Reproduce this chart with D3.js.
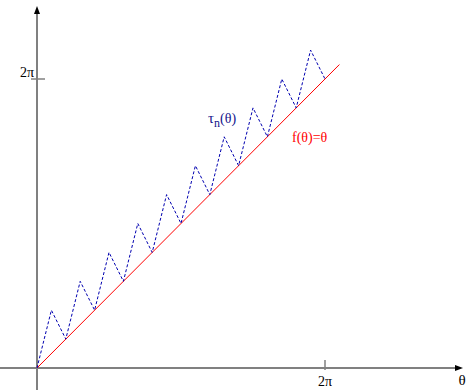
<!DOCTYPE html>
<html>
<head>
<meta charset="utf-8">
<script src="https://cdn.jsdelivr.net/npm/d3@7"></script>
<style>
  html, body { margin: 0; padding: 0; background: #fff; }
  svg { display: block; }
</style>
</head>
<body>
<div id="chart"></div>
<script>
// values in units of pi
const tauTheta = [0, 0.1, 0.2, 0.3, 0.4, 0.5, 0.6, 0.7, 0.8, 0.9, 1.0,
                  1.1, 1.2, 1.3, 1.4, 1.5, 1.6, 1.7, 1.8, 1.9, 2.0];
const tauValue = [0, 0.4, 0.2, 0.6, 0.4, 0.8, 0.6, 1.0, 0.8, 1.2, 1.0,
                  1.4, 1.2, 1.6, 1.4, 1.8, 1.6, 2.0, 1.8, 2.2, 2.0];
const lineTheta = [0, 2.1];
const lineValue = [0, 2.1];
const xTicks = [2];
const yTicks = [2];
const tickLabels = ["2π"];

const width = 469, height = 390;
const PI = Math.PI;
const serif = "'Liberation Serif', 'Times New Roman', 'DejaVu Serif', serif";

const svg = d3.select("#chart").append("svg")
    .attr("width", width)
    .attr("height", height)
    .attr("font-family", serif);

const x = d3.scaleLinear().domain([0, 2 * PI]).range([37, 325]);
const y = d3.scaleLinear().domain([0, 2 * PI]).range([368, 79]);

const axisColor = "#808080";

// axes
svg.append("line")
    .attr("x1", 0).attr("x2", 458)
    .attr("y1", y(0)).attr("y2", y(0))
    .attr("stroke", axisColor).attr("stroke-width", 2);

svg.append("line")
    .attr("x1", x(0)).attr("x2", x(0))
    .attr("y1", height).attr("y2", 11)
    .attr("stroke", axisColor).attr("stroke-width", 2);

// arrow heads
svg.append("path")
    .attr("d", `M${x(0)},6 L${x(0) - 3},14 L${x(0) + 3},14 Z`)
    .attr("fill", "#000");
svg.append("path")
    .attr("d", `M463,${y(0)} L455,${y(0) - 3} L455,${y(0) + 3} Z`)
    .attr("fill", "#000");

// ticks
svg.selectAll("line.xtick")
    .data(xTicks)
    .join("line")
    .attr("class", "xtick")
    .attr("x1", d => x(d * PI)).attr("x2", d => x(d * PI))
    .attr("y1", y(0) - 8).attr("y2", y(0) + 2)
    .attr("stroke", axisColor).attr("stroke-width", 1.5);

svg.selectAll("text.xtick")
    .data(xTicks)
    .join("text")
    .attr("class", "xtick")
    .attr("x", d => x(d * PI))
    .attr("y", 386)
    .attr("text-anchor", "middle")
    .attr("font-size", 14)
    .text((d, i) => tickLabels[i]);

svg.selectAll("line.ytick")
    .data(yTicks)
    .join("line")
    .attr("class", "ytick")
    .attr("x1", x(0) - 6).attr("x2", x(0) + 8)
    .attr("y1", d => y(d * PI)).attr("y2", d => y(d * PI))
    .attr("stroke", axisColor).attr("stroke-width", 1.5);

svg.selectAll("text.ytick")
    .data(yTicks)
    .join("text")
    .attr("class", "ytick")
    .attr("x", 34)
    .attr("y", d => y(d * PI) - 2)
    .attr("text-anchor", "end")
    .attr("font-size", 14)
    .text((d, i) => tickLabels[i]);

svg.append("text")
    .attr("x", 462).attr("y", 385)
    .attr("text-anchor", "middle")
    .attr("font-size", 15)
    .text("θ");

// f(theta) = theta
const lineData = lineTheta.map((t, i) => [t * PI, lineValue[i] * PI]);
svg.append("path")
    .datum(lineData)
    .attr("d", d3.line().x(d => x(d[0])).y(d => y(d[1])))
    .attr("fill", "none")
    .attr("stroke", "#ff0000")
    .attr("stroke-width", 1);

// tau_n(theta)
const tauData = tauTheta.map((t, i) => [t * PI, tauValue[i] * PI]);
svg.append("path")
    .datum(tauData)
    .attr("d", d3.line().x(d => x(d[0])).y(d => y(d[1])))
    .attr("fill", "none")
    .attr("stroke", "#0000b0")
    .attr("stroke-width", 1)
    .attr("stroke-dasharray", "3,2");

// labels
const tauLabel = svg.append("text")
    .attr("x", 208).attr("y", 123)
    .attr("font-size", 15)
    .attr("fill", "#14148c");
tauLabel.append("tspan").text("τ");
tauLabel.append("tspan").attr("dy", 4).attr("font-size", 12).text("n");
tauLabel.append("tspan").attr("dy", -4).attr("font-size", 14).text("(θ)");

svg.append("text")
    .attr("x", 292).attr("y", 142)
    .attr("font-size", 14)
    .attr("fill", "#ff0000")
    .text("f(θ)=θ");
</script>
</body>
</html>
